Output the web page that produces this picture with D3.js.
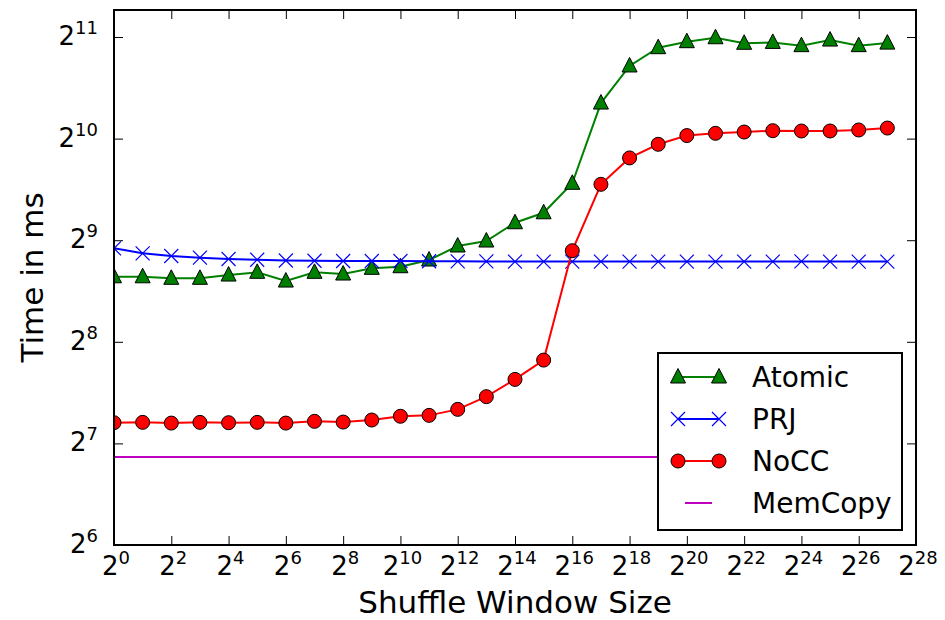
<!DOCTYPE html>
<html>
<head>
<meta charset="utf-8">
<script src="https://cdn.jsdelivr.net/npm/d3@7"></script>
<style>
  body { margin: 0; background: #fff; }
  text { font-family: "DejaVu Sans", sans-serif; }
</style>
</head>
<body>
<div id="chart"></div>
<script>
// exponents of 2 for the shuffle window size
const windowExp = d3.range(0, 28)

// log2 of time in ms
const atomic = [8.64, 8.64, 8.625, 8.625, 8.657, 8.684, 8.598, 8.684, 8.667, 8.723, 8.739, 8.805, 8.943, 8.992,
    9.172, 9.27, 9.56, 10.35, 10.715, 10.895, 10.954, 10.993, 10.938, 10.947, 10.915, 10.97, 10.915, 10.94]
const prj = [8.92, 8.871, 8.845, 8.828, 8.815, 8.808, 8.80, 8.798, 8.795, 8.795, 8.795, 8.793, 8.792, 8.791,
    8.79, 8.79, 8.79, 8.79, 8.79, 8.79, 8.79, 8.79, 8.79, 8.79, 8.791, 8.79, 8.79, 8.79]
const nocc = [7.204, 7.207, 7.20, 7.207, 7.204, 7.207, 7.20, 7.217, 7.21, 7.23, 7.267, 7.276, 7.335, 7.46,
    7.63, 7.82, 8.897, 9.55, 9.81, 9.944, 10.03, 10.052, 10.065, 10.078, 10.075, 10.075, 10.085, 10.104]
const memcopy = windowExp.map(() => 6.866)

const xTicks = d3.range(0, 29, 2)
const yTicks = [6, 7, 8, 9, 10, 11]

const series = [
    {name: "Atomic", values: atomic, color: "#008000", marker: "triangle"},
    {name: "PRJ", values: prj, color: "#0000ff", marker: "x"},
    {name: "NoCC", values: nocc, color: "#ff0000", marker: "circle"},
    {name: "MemCopy", values: memcopy, color: "#bf00bf", marker: null}
]

const W = 945, H = 620
const margin = {top: 10, right: 29, bottom: 75, left: 114}
const width = W - margin.left - margin.right,
      height = H - margin.top - margin.bottom

const svg = d3.select("#chart").append("svg")
    .attr("width", W).attr("height", H)

const g = svg.append("g")
    .attr("transform", "translate(" + margin.left + "," + margin.top + ")")

// axes work on the exponent, labels are drawn as 2^n
const x = d3.scaleLinear().domain([0, 28]).range([0, width])
const y = d3.scaleLinear().domain([6, 11.266]).range([height, 0])

g.append("clipPath").attr("id", "clip")
    .append("rect").attr("width", width).attr("height", height)

const plot = g.append("g").attr("clip-path", "url(#clip)")

const line = d3.line()
    .x((d, i) => x(windowExp[i]))
    .y(d => y(d))

const addMarkers = (pts, s) => {
    if (s.marker === "triangle") {
        pts.append("path").attr("d", "M0,-8.5L7.5,6L-7.5,6Z")
            .attr("fill", s.color).attr("stroke", "#000").attr("stroke-width", 1)
    } else if (s.marker === "circle") {
        pts.append("circle").attr("r", 7)
            .attr("fill", s.color).attr("stroke", "#000").attr("stroke-width", 1)
    } else if (s.marker === "x") {
        pts.append("path").attr("d", "M-7,-7L7,7M-7,7L7,-7")
            .attr("stroke", s.color).attr("stroke-width", 1.2).attr("fill", "none")
    }
}

series.forEach(s => {
    const sg = plot.append("g")
    sg.append("path").datum(s.values)
        .attr("d", line)
        .attr("fill", "none")
        .attr("stroke", s.color)
        .attr("stroke-width", 2)
    if (s.marker) {
        const pts = sg.selectAll(".m").data(s.values).enter().append("g")
            .attr("transform", (d, i) => "translate(" + x(windowExp[i]) + "," + y(d) + ")")
        addMarkers(pts, s)
    }
})

// frame with inward ticks on all four sides
const tickLen = 9
const axisStyle = a => a.call(gg => gg.select(".domain").remove())
    .call(gg => gg.selectAll("text").remove())
    .call(gg => gg.selectAll("line").attr("stroke", "#000").attr("stroke-width", 1))

g.append("g").attr("transform", "translate(0," + height + ")")
    .call(d3.axisTop(x).tickValues(xTicks).tickSize(tickLen)).call(axisStyle)
g.append("g")
    .call(d3.axisBottom(x).tickValues(xTicks).tickSize(tickLen)).call(axisStyle)
g.append("g")
    .call(d3.axisRight(y).tickValues(yTicks).tickSize(tickLen)).call(axisStyle)
g.append("g").attr("transform", "translate(" + width + ",0)")
    .call(d3.axisLeft(y).tickValues(yTicks).tickSize(tickLen)).call(axisStyle)

g.append("rect").attr("width", width).attr("height", height)
    .attr("fill", "none").attr("stroke", "#000").attr("stroke-width", 2)

// tick labels as powers of two
const powLabel = (sel, n) => {
    sel.append("tspan").text("2")
    sel.append("tspan").attr("dy", -11).attr("font-size", 18).text(n)
}

g.append("g").selectAll("text").data(xTicks).enter().append("text")
    .attr("x", d => x(d) + 2).attr("y", height + 30)
    .attr("text-anchor", "middle").attr("font-size", 26)
    .each(function(d) { powLabel(d3.select(this), d) })

g.append("g").selectAll("text").data(yTicks).enter().append("text")
    .attr("x", -16).attr("y", d => y(d) + 8)
    .attr("text-anchor", "end").attr("font-size", 26)
    .each(function(d) { powLabel(d3.select(this), d) })

svg.append("text")
    .attr("x", margin.left + width / 2).attr("y", 613)
    .attr("text-anchor", "middle").attr("font-size", 31)
    .text("Shuffle Window Size")

svg.append("text")
    .attr("transform", "translate(43," + (margin.top + height / 2) + ") rotate(-90)")
    .attr("text-anchor", "middle").attr("font-size", 31)
    .text("Time in ms")

// legend
const lg = svg.append("g").attr("transform", "translate(658,353)")
lg.append("rect").attr("width", 244).attr("height", 177)
    .attr("fill", "#fff").attr("stroke", "#000").attr("stroke-width", 2)

series.forEach((s, i) => {
    const row = lg.append("g").attr("transform", "translate(0," + (24 + i * 42) + ")")
    const ln = row.append("line").attr("x1", 20).attr("x2", 61).attr("y1", 0).attr("y2", 0)
        .attr("stroke", s.color).attr("stroke-width", 2)
    if (s.marker) {
        const pts = row.selectAll(".m").data([20, 61]).enter().append("g")
            .attr("transform", d => "translate(" + d + ",0)")
        addMarkers(pts, s)
    } else {
        ln.attr("x1", 27).attr("x2", 54)
    }
    row.append("text").attr("x", 94).attr("y", 10)
        .attr("font-size", 28).text(s.name)
})
</script>
</body>
</html>
